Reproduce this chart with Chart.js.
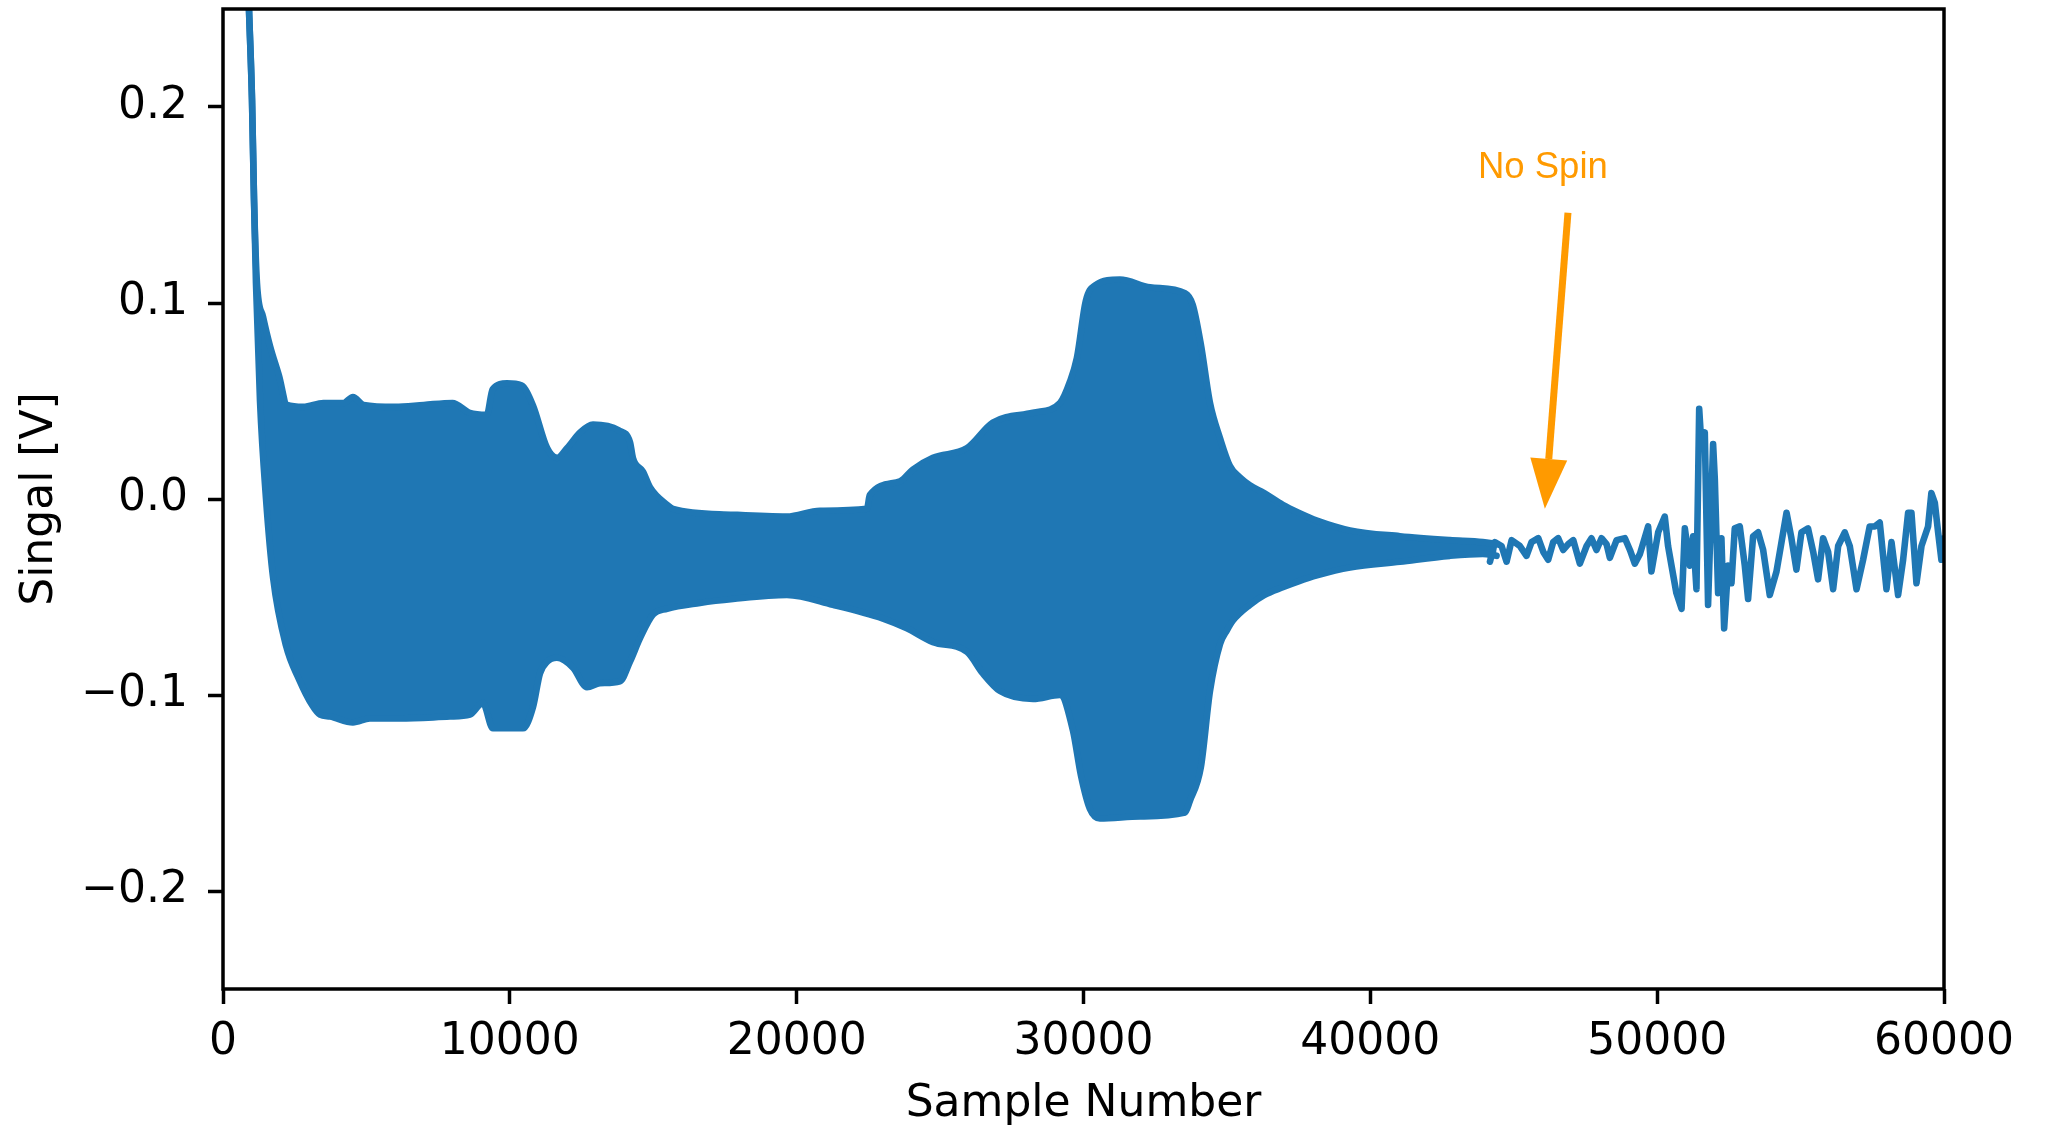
<!DOCTYPE html>
<html>
<head>
<meta charset="utf-8">
<title>Signal</title>
<script src="https://cdn.jsdelivr.net/npm/chart.js@4"></script>
<style>
	html, body { margin: 0; padding: 0; background: #fff; }
	canvas { display: block; }
</style>
</head>
<body>
<canvas id="signalChart" width="2047" height="1128"></canvas>
<script>
// Envelope of the dense oscillation (top and bottom edge of the band)
const upperSamples = [800, 906, 1011, 1081, 1185, 1395, 1640, 1950, 2230, 2800, 3500, 4200, 4530, 4900, 6000, 7000, 8000, 8600, 9200, 9400, 9900, 10400, 10800, 11300, 11650, 12000, 12450, 12900, 13800, 14190, 14290, 14640, 14885, 15480, 15690, 17780, 19660, 20810, 22450, 22550, 23600, 24050, 24750, 25940, 26840, 28240, 29180, 29530, 29770, 30080, 30400, 31270, 32320, 33540, 33810, 34090, 34410, 34760, 35100, 35450, 35800, 36300, 36950, 37500, 38140, 39290, 41030, 42770, 43920, 44400];
const upperVolts = [0.30, 0.25, 0.204, 0.153, 0.110, 0.093, 0.078, 0.063, 0.048, 0.047, 0.049, 0.049, 0.052, 0.048, 0.047, 0.048, 0.049, 0.044, 0.043, 0.056, 0.059, 0.058, 0.048, 0.026, 0.021, 0.026, 0.034, 0.038, 0.035, 0.029, 0.021, 0.014, 0.006, -0.003, -0.005, -0.008, -0.009, -0.006, -0.005, 0.002, 0.009, 0.015, 0.021, 0.026, 0.039, 0.044, 0.049, 0.060, 0.072, 0.101, 0.109, 0.112, 0.108, 0.105, 0.099, 0.079, 0.049, 0.031, 0.017, 0.011, 0.007, 0.003, -0.003, -0.007, -0.011, -0.016, -0.019, -0.021, -0.022, -0.023];

const lowerSamples = [800, 906, 1011, 1081, 1150, 1290, 1500, 1745, 2200, 2650, 3100, 3380, 3730, 4530, 5120, 6170, 7910, 8610, 9060, 9410, 10460, 10810, 11050, 11300, 11640, 12200, 12690, 13140, 13840, 14190, 14540, 14990, 15480, 16630, 17780, 19660, 21260, 23010, 23840, 24750, 25940, 26490, 27090, 28240, 29180, 29630, 29910, 30220, 30570, 31970, 33540, 33710, 34090, 34410, 34760, 35000, 35210, 35800, 36300, 36950, 37500, 38140, 39290, 41030, 42770, 43920, 44400];
const lowerVolts = [0.30, 0.25, 0.204, 0.153, 0.110, 0.05, 0.0, -0.040, -0.075, -0.092, -0.105, -0.110, -0.111, -0.114, -0.112, -0.112, -0.111, -0.110, -0.104, -0.117, -0.117, -0.106, -0.089, -0.083, -0.081, -0.086, -0.096, -0.094, -0.093, -0.083, -0.071, -0.059, -0.056, -0.053, -0.051, -0.049, -0.054, -0.061, -0.066, -0.073, -0.078, -0.089, -0.098, -0.102, -0.100, -0.118, -0.141, -0.158, -0.163, -0.162, -0.160, -0.154, -0.137, -0.098, -0.074, -0.067, -0.062, -0.054, -0.049, -0.045, -0.042, -0.039, -0.035, -0.032, -0.029, -0.028, -0.029];

// After the spin stops the trace is sparse enough to follow as a line
const tailSamples = [44170, 44340, 44575, 44750, 44925, 45215, 45445, 45620, 45855, 46030, 46200, 46375, 46550, 46725, 46900, 47075, 47305, 47540, 47710, 47885, 48060, 48235, 48350, 48585, 48875, 49050, 49220, 49400, 49685, 49800, 50035, 50265, 50380, 50500, 50670, 50850, 50965, 51140, 51255, 51370, 51465, 51545, 51660, 51775, 51950, 52010, 52125, 52240, 52335, 52475, 52590, 52705, 52880, 53055, 53170, 53345, 53520, 53695, 53925, 54160, 54335, 54510, 54680, 54855, 55030, 55260, 55440, 55610, 55785, 55960, 56135, 56310, 56540, 56715, 56950, 57180, 57410, 57590, 57760, 57995, 58170, 58400, 58575, 58750, 58865, 59040, 59215, 59445, 59560, 59680, 59795, 59910, 60000];
const tailVolts = [-0.032, -0.022, -0.024, -0.032, -0.021, -0.024, -0.029, -0.022, -0.020, -0.027, -0.031, -0.022, -0.020, -0.026, -0.023, -0.021, -0.033, -0.024, -0.020, -0.026, -0.020, -0.023, -0.030, -0.021, -0.020, -0.026, -0.033, -0.028, -0.014, -0.037, -0.017, -0.009, -0.024, -0.034, -0.048, -0.056, -0.015, -0.034, -0.019, -0.046, 0.046, 0.027, 0.034, -0.054, 0.028, 0.010, -0.048, -0.020, -0.066, -0.034, -0.043, -0.015, -0.014, -0.034, -0.051, -0.019, -0.017, -0.026, -0.049, -0.037, -0.022, -0.007, -0.020, -0.036, -0.017, -0.015, -0.027, -0.041, -0.020, -0.027, -0.046, -0.024, -0.017, -0.024, -0.046, -0.031, -0.014, -0.014, -0.012, -0.046, -0.022, -0.049, -0.031, -0.007, -0.007, -0.043, -0.024, -0.014, 0.003, -0.002, -0.017, -0.031, -0.020];

const xTicks = [0, 10000, 20000, 30000, 40000, 50000, 60000];
const yTicks = [-0.2, -0.1, 0.0, 0.1, 0.2];

// "No Spin" note: label position and arrow, in data units
const noSpinLabel = 'No Spin';
const noSpinLabelAt = { x: 46015, y: 0.164 };
const noSpinArrowFrom = { x: 46890, y: 0.146 };
const noSpinArrowTo = { x: 46085, y: -0.005 };

const lineBlue = '#1f77b4';
const noteOrange = '#ff9a00';

const toPoints = (xs, ys) => xs.map((x, i) => ({ x: x, y: ys[i] }));

// Box round the plot plus the arrow annotation
const frameAndNote = {
	id: 'frameAndNote',
	afterDraw(chart) {
		const { ctx, chartArea: a } = chart;
		const xs = chart.scales.x;
		const ys = chart.scales.y;
		ctx.save();

		ctx.strokeStyle = '#000';
		ctx.lineWidth = 3.5;
		ctx.strokeRect(a.left, a.top, a.right - a.left, a.bottom - a.top);

		const x0 = xs.getPixelForValue(noSpinArrowFrom.x);
		const y0 = ys.getPixelForValue(noSpinArrowFrom.y);
		const x1 = xs.getPixelForValue(noSpinArrowTo.x);
		const y1 = ys.getPixelForValue(noSpinArrowTo.y);
		const ang = Math.atan2(y1 - y0, x1 - x0);
		const headLen = 50;
		const headHalf = 18.5;
		const bx = x1 - headLen * Math.cos(ang);
		const by = y1 - headLen * Math.sin(ang);

		ctx.strokeStyle = noteOrange;
		ctx.fillStyle = noteOrange;
		ctx.lineWidth = 7;
		ctx.beginPath();
		ctx.moveTo(x0, y0);
		ctx.lineTo(bx, by);
		ctx.stroke();

		ctx.beginPath();
		ctx.moveTo(x1, y1);
		ctx.lineTo(bx + headHalf * Math.sin(ang), by - headHalf * Math.cos(ang));
		ctx.lineTo(bx - headHalf * Math.sin(ang), by + headHalf * Math.cos(ang));
		ctx.closePath();
		ctx.fill();

		ctx.font = '36.5px "Liberation Sans", Arial, sans-serif';
		ctx.textAlign = 'center';
		ctx.textBaseline = 'alphabetic';
		ctx.fillText(noSpinLabel, xs.getPixelForValue(noSpinLabelAt.x), ys.getPixelForValue(noSpinLabelAt.y));

		ctx.restore();
	},
};

Chart.defaults.font.family = '"DejaVu Sans", sans-serif';
Chart.defaults.font.size = 44;
Chart.defaults.color = '#000';

const traceStyle = {
	borderColor: lineBlue,
	backgroundColor: lineBlue,
	borderWidth: 6.6,
	borderJoinStyle: 'round',
	borderCapStyle: 'round',
	pointRadius: 0,
	tension: 0,
	clip: 0,
};

// band edges are drawn as smooth curves, the tail as plain segments
const bandStyle = { ...traceStyle, cubicInterpolationMode: 'monotone' };

new Chart(document.getElementById('signalChart').getContext('2d'), {
	type: 'line',
	data: {
		datasets: [
			{ ...bandStyle, label: 'upper', data: toPoints(upperSamples, upperVolts), fill: false },
			{ ...bandStyle, label: 'lower', data: toPoints(lowerSamples, lowerVolts), fill: '-1' },
			{ ...traceStyle, label: 'signal', data: toPoints(tailSamples, tailVolts), fill: false },
		],
	},
	options: {
		responsive: false,
		animation: false,
		devicePixelRatio: 1,
		layout: { padding: { top: 9, right: 103, bottom: 0, left: 0 } },
		plugins: {
			legend: { display: false },
			tooltip: { enabled: false },
		},
		scales: {
			x: {
				type: 'linear',
				min: 0,
				max: 60000,
				afterBuildTicks: (axis) => {
					axis.ticks = xTicks.map((v) => ({ value: v }));
				},
				afterFit: (axis) => {
					axis.height = 139;
					axis.paddingLeft = 0;
					axis.paddingRight = 0;
				},
				border: { display: false },
				grid: {
					drawOnChartArea: false,
					tickLength: 15,
					tickWidth: 3.5,
					tickColor: '#000',
				},
				ticks: {
					autoSkip: false,
					maxRotation: 0,
					padding: 12.5,
					callback: (v) => String(v),
				},
				title: {
					display: true,
					text: 'Sample Number',
					font: { lineHeight: 1.05 },
					padding: { top: 0, bottom: 0 },
				},
			},
			y: {
				min: -0.25,
				max: 0.25,
				afterBuildTicks: (axis) => {
					axis.ticks = yTicks.map((v) => ({ value: v }));
				},
				afterFit: (axis) => {
					axis.width = 223;
					axis.paddingTop = 0;
					axis.paddingBottom = 0;
				},
				border: { display: false },
				grid: {
					drawOnChartArea: false,
					tickLength: 15,
					tickWidth: 3.5,
					tickColor: '#000',
				},
				ticks: {
					padding: 20,
					callback: (v) => {
						const s = Math.abs(v).toFixed(1);
						return v < -1e-9 ? '\u2212' + s : s;
					},
				},
				title: {
					display: true,
					text: 'Singal [V]',
					padding: { top: 14, bottom: 0 },
				},
			},
		},
	},
	plugins: [frameAndNote],
});
</script>
</body>
</html>
